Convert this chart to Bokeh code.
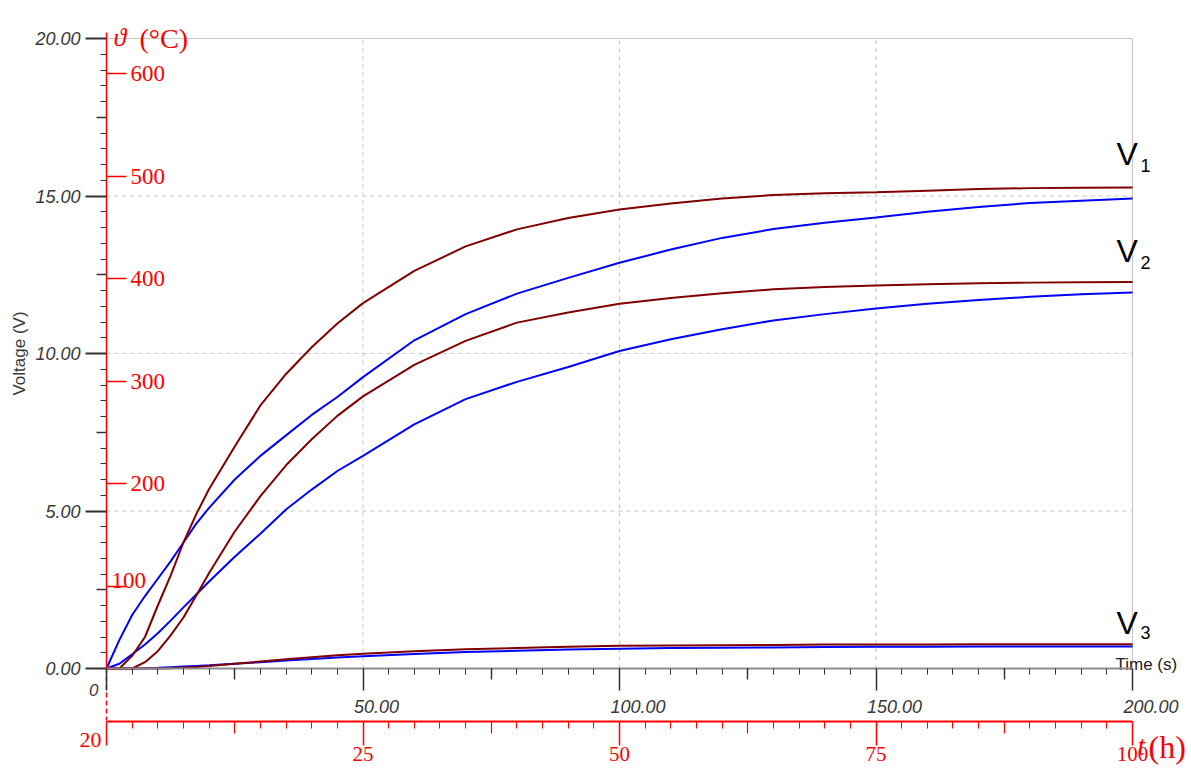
from bokeh.plotting import figure
from bokeh.models import Range1d, LinearAxis, FixedTicker, PrintfTickFormatter
from bokeh.core.properties import value
from bokeh.embed import file_html
from bokeh.resources import INLINE

# ---------------- data ----------------
time_s = [0, 2.5, 5, 7.5, 10, 12.5, 15, 17.5, 20, 25, 30, 35, 40, 45, 50, 60, 70, 80,
          90, 100, 110, 120, 130, 140, 150, 160, 170, 180, 190, 200]

v1_brown = [0, 0.0, 0.4, 1.0, 2.0, 2.95, 4.0, 4.9, 5.7, 7.05, 8.35, 9.35, 10.2, 10.95, 11.6,
            12.62, 13.4, 13.94, 14.3, 14.57, 14.76, 14.92, 15.03, 15.09, 15.12, 15.17,
            15.22, 15.25, 15.26, 15.27]
v1_blue = [0, 0.9, 1.7, 2.3, 2.85, 3.4, 4.0, 4.6, 5.1, 6.0, 6.75, 7.4, 8.05, 8.62, 9.25,
           10.42, 11.25, 11.9, 12.4, 12.88, 13.3, 13.67, 13.95, 14.15, 14.32, 14.5,
           14.65, 14.78, 14.85, 14.92]
v2_brown = [0, 0, 0, 0.2, 0.55, 1.05, 1.62, 2.32, 3.03, 4.35, 5.47, 6.45, 7.28, 8.02, 8.64,
            9.64, 10.4, 10.98, 11.3, 11.58, 11.76, 11.91, 12.04, 12.11, 12.16, 12.2,
            12.23, 12.25, 12.26, 12.27]
v2_blue = [0, 0.15, 0.45, 0.76, 1.12, 1.52, 1.94, 2.35, 2.76, 3.55, 4.28, 5.05, 5.68, 6.27,
           6.75, 7.75, 8.55, 9.1, 9.57, 10.08, 10.45, 10.77, 11.05, 11.25, 11.43, 11.58,
           11.7, 11.8, 11.88, 11.94]
v3_brown = [0, 0, 0, 0, 0, 0.01, 0.03, 0.05, 0.08, 0.15, 0.22, 0.29, 0.36, 0.42, 0.47,
            0.55, 0.61, 0.65, 0.69, 0.72, 0.73, 0.74, 0.75, 0.76, 0.76, 0.76, 0.77, 0.77,
            0.77, 0.77]
v3_blue = [0, 0, 0, 0.01, 0.02, 0.04, 0.06, 0.08, 0.1, 0.15, 0.2, 0.25, 0.3, 0.35, 0.39,
           0.46, 0.52, 0.56, 0.6, 0.63, 0.65, 0.66, 0.67, 0.68, 0.69, 0.69, 0.7, 0.7, 0.7, 0.7]

volt_ticks = [0, 5, 10, 15, 20]
volt_mid_ticks = [2.5, 7.5, 12.5, 17.5]
volt_minor_ticks = [i * 0.5 for i in range(41)]
time_major_ticks = [0, 50, 100, 150, 200]
time_mid_ticks = [25, 75, 125, 175]
time_minor_ticks = [i * 5 for i in range(41)]
time_tick_labels = ["50.00", "100.00", "150.00", "200.00"]
time_label_values = [50, 100, 150, 200]
temp_ticks = [100, 200, 300, 400, 500, 600]
hour_ticks = [0, 25, 50, 75, 100]
hour_mid_ticks = [12.5, 37.5, 62.5, 87.5]
hour_minor_ticks = [i * 2.5 for i in range(41)]
curve_labels = ["V", "V", "V"]
curve_subs = ["1", "2", "3"]

# ---------------- geometry ----------------
W, H = 1190, 770                 # canvas placed at page (0, 0)
SX = 1026 / 200.0                # px per second
SY = 630 / 20.0                  # px per volt
K = 0.03257                      # volts per degC on the drawn temperature scale
HOUR_AXIS_PY = 721


def X(px):  # page px -> data x
    return (px - 106) / SX


def Y(py):  # page py -> data y
    return (668 - py) / SY


x0, x1 = X(0), X(W)
y0, y1 = Y(H), Y(0)

BROWN = "#800000"
BLUE = "#0000ff"
RED = "#ff0000"
DARK = "#333333"
SANS = "Liberation Sans"
SERIF = "Liberation Serif"

p = figure(width=W, height=H, x_range=Range1d(x0, x1), y_range=Range1d(y0, y1),
           x_axis_type=None, y_axis_type=None, toolbar_location=None,
           output_backend="svg", min_border=0, outline_line_color=None)
p.background_fill_color = "white"
p.border_fill_color = "white"
p.extra_x_ranges = {"hours": Range1d(x0 / 2.0, x1 / 2.0)}
p.extra_y_ranges = {"temp": Range1d(20 + y0 / K, 20 + y1 / K)}

# grid & frame lines
p.segment(x0=[50, 100, 150], y0=[0, 0, 0], x1=[50, 100, 150], y1=[20, 20, 20],
          line_color="#c4c4c4", line_dash="4 4", line_width=1)
p.segment(x0=[0, 0, 0], y0=[5, 10, 15], x1=[200, 200, 200], y1=[5, 10, 15],
          line_color="#c4c4c4", line_dash="4 4", line_width=1)
p.segment(x0=[0, 200], y0=[20, 0], x1=[200, 200], y1=[20, 20],
          line_color="#c8c8c8", line_width=1.2)

# curves
for ys in (v1_blue, v2_blue, v3_blue):
    p.line(time_s, ys, line_color=BLUE, line_width=2)
for ys in (v1_brown, v2_brown, v3_brown):
    p.line(time_s, ys, line_color=BROWN, line_width=2)

# red dashed connector
p.segment(x0=[0], y0=[0], x1=[0], y1=[Y(HOUR_AXIS_PY - 1)], line_color=RED,
          line_dash="5 3", line_width=1.5)


def tick_axis(side, ticks, out, color, width, line=None, **kw):
    """Unlabelled axis: only (minor) ticks of one length."""
    ax = LinearAxis(ticker=FixedTicker(ticks=[], minor_ticks=ticks),
                    axis_line_color=line, axis_line_width=2,
                    major_tick_line_color=None,
                    minor_tick_line_color=color, minor_tick_line_width=width,
                    minor_tick_out=out, minor_tick_in=0, **kw)
    p.add_layout(ax, side)
    return ax


# ---------------- axes ----------------
volt_axis = LinearAxis(
    fixed_location=0, bounds=(0, 20),
    ticker=FixedTicker(ticks=volt_ticks, minor_ticks=volt_minor_ticks),
    formatter=PrintfTickFormatter(format="%.2f"),
    axis_line_color=None,
    major_tick_line_color=DARK, major_tick_line_width=2, major_tick_out=21, major_tick_in=0,
    minor_tick_line_color=DARK, minor_tick_line_width=1, minor_tick_out=6, minor_tick_in=0,
    major_label_standoff=5, major_label_text_font=SANS, major_label_text_font_size="18px",
    major_label_text_font_style="italic", major_label_text_color="#3a3a3a",
    axis_label="Voltage (V)", axis_label_text_font=SANS, axis_label_text_font_size="17px",
    axis_label_text_font_style="normal", axis_label_text_color="#3a3a3a",
    axis_label_standoff=3)
p.add_layout(volt_axis, "left")
tick_axis("left", volt_mid_ticks, 10, DARK, 1.5, fixed_location=0)

temp_axis = LinearAxis(
    y_range_name="temp", fixed_location=0, bounds=(20, 20 + 20.2 / K),
    ticker=FixedTicker(ticks=temp_ticks, minor_ticks=[]),
    major_label_overrides={100: ""},
    axis_line_color=RED, axis_line_width=1.5,
    major_tick_line_color=RED, major_tick_line_width=1.5, major_tick_out=20, major_tick_in=0,
    minor_tick_line_color=None,
    major_label_standoff=4, major_label_text_font=SERIF, major_label_text_font_size="23px",
    major_label_text_color=RED)
p.add_layout(temp_axis, "right")
# the "100" label sits above its tick in the reference
p.text(x=[X(111)], y=[temp_ticks[0]], text=[str(temp_ticks[0])], y_range_name="temp",
       y_offset=-6, text_align="left", text_baseline="alphabetic", text_font=value(SERIF),
       text_font_size="23px", text_color=RED)

# time axis (seconds): line + three tick lengths, labels drawn as text below
tick_axis("below", time_minor_ticks, 6, DARK, 1, line="#8c8c8c",
          fixed_location=0, bounds=(0, 200))
tick_axis("below", time_mid_ticks, 11, DARK, 1.5, fixed_location=0)
tick_axis("below", time_major_ticks, 22, DARK, 1.5, fixed_location=0)

hour_axis = LinearAxis(
    x_range_name="hours", fixed_location=Y(HOUR_AXIS_PY), bounds=(0, 100),
    ticker=FixedTicker(ticks=hour_ticks, minor_ticks=hour_minor_ticks),
    major_label_overrides={0: ""},
    axis_line_color=RED, axis_line_width=2,
    major_tick_line_color=RED, major_tick_line_width=1.5, major_tick_out=24, major_tick_in=0,
    minor_tick_line_color=RED, minor_tick_line_width=1, minor_tick_out=7, minor_tick_in=0,
    major_label_standoff=1, major_label_text_font=SERIF, major_label_text_font_size="21px",
    major_label_text_color=RED)
p.add_layout(hour_axis, "below")
tick_axis("below", hour_mid_ticks, 12, RED, 1.2, x_range_name="hours",
          fixed_location=Y(HOUR_AXIS_PY))

# ---------------- texts ----------------
p.text(x=time_label_values, y=[Y(699)] * 4, text=time_tick_labels, x_offset=-9,
       text_align="left", text_baseline="top", text_font=value(SANS),
       text_font_size="18px", text_font_style="italic", text_color="#3a3a3a")
p.text(x=[X(98)], y=[Y(689)], text=["0"], text_align="right", text_baseline="alphabetic",
       text_font=value(SANS), text_font_size="17px", text_font_style="italic",
       text_color="#3a3a3a")
p.text(x=[X(1115)], y=[Y(664)], text=["Time (s)"], text_align="left",
       text_baseline="alphabetic", text_font=value(SANS), text_font_size="17px",
       text_color="#222222")

# temperature axis title
p.text(x=[X(113)], y=[Y(37)], text=["\u03d1"], text_align="left", text_baseline="alphabetic",
       text_font=value(SERIF), text_font_size="26px", text_font_style="italic", text_color=RED)
p.text(x=[X(139)], y=[Y(38)], text=["(\u00b0C)"], text_align="left",
       text_baseline="alphabetic", text_font=value(SERIF), text_font_size="28px",
       text_color=RED)

# hours axis extras
p.text(x=[X(101)], y=[Y(739)], text=["20"], text_align="right", text_baseline="alphabetic",
       text_font=value(SERIF), text_font_size="22px", text_color=RED)
p.text(x=[X(1137)], y=[Y(745)], text=["t"], text_align="left", text_baseline="alphabetic",
       text_font=value(SERIF), text_font_size="28px", text_font_style="italic", text_color=RED)
p.text(x=[X(1148)], y=[Y(746)], text=["(h)"], text_align="left", text_baseline="alphabetic",
       text_font=value(SERIF), text_font_size="32px", text_color=RED)

# curve labels V1, V2, V3
p.text(x=[X(1116)] * 3, y=[Y(153), Y(250), Y(622)], text=curve_labels, text_align="left",
       text_baseline="alphabetic", text_font=value(SANS), text_font_size="32px",
       text_color="black")
p.text(x=[X(1140)] * 3, y=[Y(165), Y(262), Y(632)], text=curve_subs, text_align="left",
       text_baseline="alphabetic", text_font=value(SANS), text_font_size="18px",
       text_color="black")

open("out.html", "w").write(file_html(p, INLINE))
